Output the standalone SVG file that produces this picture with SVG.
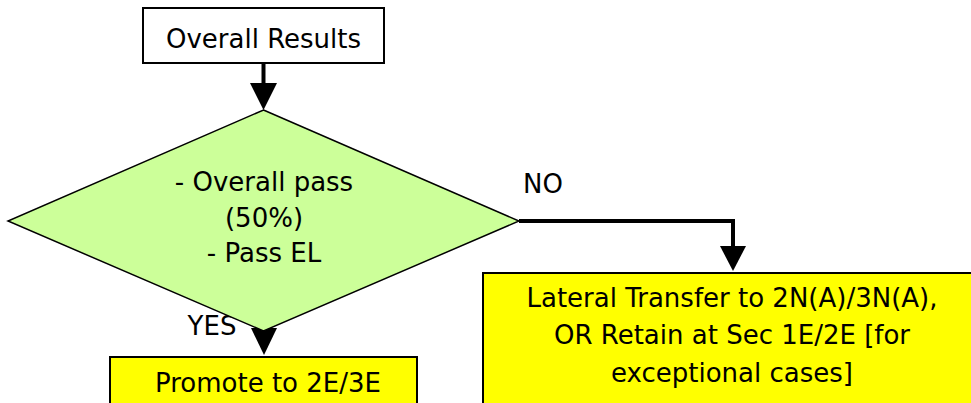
<svg xmlns="http://www.w3.org/2000/svg" width="971" height="403" viewBox="0 0 971 403">
<style>
text{font-family:"DejaVu Sans",Verdana,sans-serif;font-size:26px;fill:#000;text-anchor:middle}
.box{stroke:#000;stroke-width:2}
.conn{fill:none;stroke:#000;stroke-width:4}
.head{fill:#000}
</style>
<rect width="971" height="403" fill="#fff"/>
<g id="connectors">
<line class="conn" x1="263.5" y1="63" x2="263.5" y2="86"/>
<polygon class="head" points="250,83 277,83 263.5,110"/>
<line class="conn" x1="263.5" y1="330" x2="263.5" y2="332"/>
<polygon class="head" points="251,328 277,328 264,355"/>
<polyline class="conn" points="519,221 733,221 733,250"/>
<polygon class="head" points="720,246 746,246 733,271"/>
<text x="212" y="335">YES</text>
<text x="543" y="193">NO</text>
</g>
<g id="overall-results">
<rect class="box" x="143" y="8" width="241" height="55" fill="#fff"/>
<text x="263.5" y="48">Overall Results</text>
</g>
<g id="decision">
<polygon points="263.5,110 519,221 263.5,331 8,221" fill="#ccff99" stroke="#000" stroke-width="1.5"/>
<text x="264" y="191">- Overall pass</text>
<text x="264" y="227">(50%)</text>
<text x="264" y="262">- Pass EL</text>
</g>
<g id="promote">
<rect class="box" x="110" y="357" width="307" height="60" fill="#ffff00"/>
<text x="268" y="392">Promote to 2E/3E</text>
</g>
<g id="lateral">
<rect class="box" x="483" y="273" width="500" height="150" fill="#ffff00"/>
<text x="732" y="307">Lateral Transfer to 2N(A)/3N(A),</text>
<text x="732" y="344">OR Retain at Sec 1E/2E [for</text>
<text x="732" y="382">exceptional cases]</text>
</g>
</svg>
